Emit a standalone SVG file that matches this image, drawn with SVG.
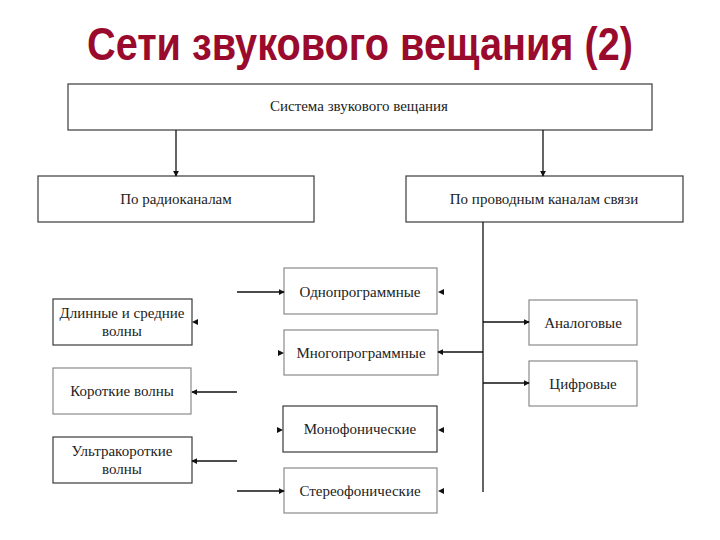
<svg xmlns="http://www.w3.org/2000/svg" width="720" height="540" viewBox="0 0 720 540">
<style>
.title{font-family:"Liberation Sans",Arial,sans-serif;font-weight:bold;font-size:46px;fill:#9a0a2d}
.box{fill:#fff;stroke:#3a3a3a;stroke-width:1.2}
.lt{fill:#fff;stroke:#8a8a8a;stroke-width:1.2}
.t{font-family:"Liberation Serif","DejaVu Serif",serif;font-size:15px;fill:#222;text-anchor:middle}
.c{stroke:#111;stroke-width:1.3;fill:none}
.ah{fill:#111}
</style>
<defs>
<marker id="a" viewBox="0 0 8 8" refX="7" refY="4" markerWidth="6" markerHeight="6" markerUnits="userSpaceOnUse" orient="auto"><path d="M0,0 L8,4 L0,8 Z" fill="#111"/></marker>
</defs>
<text class="title" x="87" y="60" textLength="546" lengthAdjust="spacingAndGlyphs">Сети звукового вещания (2)</text>

<g id="n-system"><rect class="box" x="68" y="84" width="584" height="46"/><text class="t" x="359" y="111">Система звукового вещания</text></g>
<g id="n-radio"><rect class="box" x="38" y="176" width="276" height="46"/><text class="t" x="176" y="204">По радиоканалам</text></g>
<g id="n-wire"><rect class="box" x="406" y="176" width="277" height="46"/><text class="t" x="544" y="204">По проводным каналам связи</text></g>

<g id="n-long"><rect class="box" x="53" y="299" width="139" height="46"/><text class="t" x="122" y="318">Длинные и средние</text><text class="t" x="122" y="336">волны</text></g>
<g id="n-short"><rect class="lt" x="53" y="368" width="138" height="46"/><text class="t" x="122" y="396">Короткие волны</text></g>
<g id="n-ultra"><rect class="box" x="53" y="437" width="139" height="46"/><text class="t" x="122" y="456">Ультракороткие</text><text class="t" x="122" y="474">волны</text></g>

<g id="n-single"><rect class="lt" x="284" y="268" width="153" height="46"/><text class="t" x="360" y="297">Однопрограммные</text></g>
<g id="n-multi"><rect class="lt" x="284" y="330" width="154" height="45"/><text class="t" x="361" y="358">Многопрограммные</text></g>
<g id="n-mono"><rect class="box" x="283" y="406" width="154" height="46"/><text class="t" x="360" y="434">Монофонические</text></g>
<g id="n-stereo"><rect class="lt" x="284" y="468" width="153" height="45"/><text class="t" x="360" y="496">Стереофонические</text></g>

<g id="n-analog"><rect class="lt" x="529" y="300" width="108" height="45"/><text class="t" x="583" y="328">Аналоговые</text></g>
<g id="n-digital"><rect class="lt" x="529" y="361" width="108" height="45"/><text class="t" x="583" y="389">Цифровые</text></g>

<g id="connectors">
<line class="c" x1="176" y1="130" x2="176" y2="176" marker-end="url(#a)"/>
<line class="c" x1="543" y1="130" x2="543" y2="176" marker-end="url(#a)"/>
<line class="c" x1="483" y1="222" x2="483" y2="492"/>
<line class="c" x1="483" y1="322" x2="529" y2="322" marker-end="url(#a)"/>
<line class="c" x1="483" y1="383" x2="529" y2="383" marker-end="url(#a)"/>
<line class="c" x1="483" y1="352" x2="438" y2="352" marker-end="url(#a)"/>
<line class="c" x1="237" y1="292" x2="284" y2="292" marker-end="url(#a)"/>
<line class="c" x1="237" y1="491" x2="284" y2="491" marker-end="url(#a)"/>
<line class="c" x1="237" y1="392" x2="192" y2="392" marker-end="url(#a)"/>
<line class="c" x1="237" y1="461" x2="192" y2="461" marker-end="url(#a)"/>
<path class="ah" d="M192,322 L198,319 L198,325 Z"/>
<path class="ah" d="M438,292 L444,289 L444,295 Z"/>
<path class="ah" d="M438,430 L444,427 L444,433 Z"/>
<path class="ah" d="M438,491 L444,488 L444,494 Z"/>
<path class="ah" d="M284,353 L278,350 L278,356 Z"/>
<path class="ah" d="M283,430 L277,427 L277,433 Z"/>
</g>
</svg>
